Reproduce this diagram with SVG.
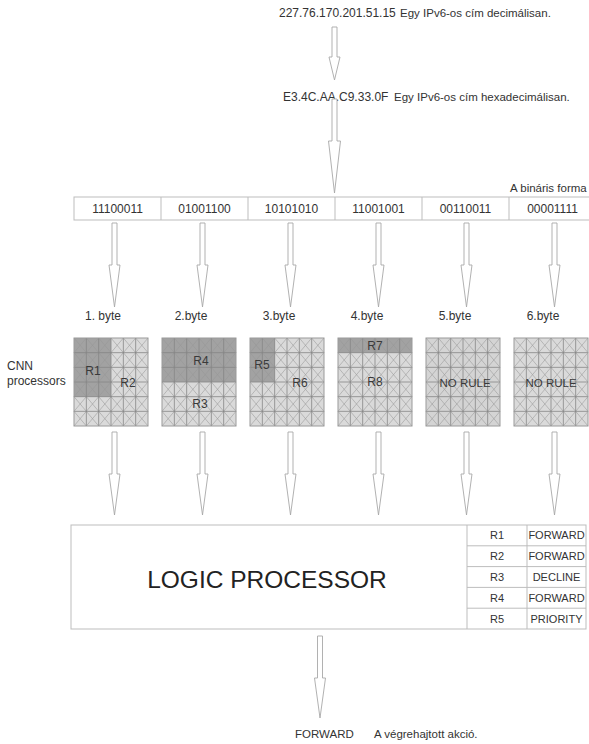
<svg xmlns="http://www.w3.org/2000/svg" xmlns:xlink="http://www.w3.org/1999/xlink" width="589" height="744" viewBox="0 0 589 744">
<style>
text{font-family:"Liberation Sans",Arial,sans-serif;fill:#333}
.t12{font-size:12px}
.t11{font-size:11.5px}
.c{text-anchor:middle}
.arrow{fill:#fff;stroke:#a8a8a8;stroke-width:0.9}
.box{fill:#fff;stroke:#bdbdbd;stroke-width:1}
.light{fill:#dadada}
.dark{fill:#a2a2a2}
.gl{fill:none;stroke:#858585;stroke-width:0.8}
.gd{fill:none;stroke:#979797;stroke-width:0.55}
.gb{fill:none;stroke:#9a9a9a;stroke-width:1}
.rl{font-size:12px;fill:#3a3a3a}
</style>
<defs>
<g id="gridlines">
<path class="gd" d="M0 0L74 88M12.33 0L74 73.33M24.67 0L74 58.67M37 0L74 44M49.33 0L74 29.33M61.67 0L74 14.67M0 14.67L61.67 88M0 29.33L49.33 88M0 44L37 88M0 58.67L24.67 88M0 73.33L12.33 88M12.33 0L0 14.67M24.67 0L0 29.33M37 0L0 44M49.33 0L0 58.67M61.67 0L0 73.33M74 0L0 88M74 14.67L12.33 88M74 29.33L24.67 88M74 44L37 88M74 58.67L49.33 88M74 73.33L61.67 88"/>
<path class="gl" d="M12.33 0V88M24.67 0V88M37 0V88M49.33 0V88M61.67 0V88M0 14.67H74M0 29.33H74M0 44H74M0 58.67H74M0 73.33H74"/>
<rect class="gb" x="0" y="0" width="74" height="88"/>
</g>
</defs>

<g id="decimal">
<text class="t12" x="279" y="17">227.76.170.201.51.15</text>
<text class="t11" x="400" y="17">Egy IPv6-os cím decimálisan.</text>
</g>
<g id="hex">
<text class="t12" x="283" y="101">E3.4C.AA.C9.33.0F</text>
<text class="t11" x="394" y="101">Egy IPv6-os cím hexadecimálisan.</text>
</g>

<g id="binary">
<text class="t11" x="510" y="192">A bináris forma</text>
<rect class="box" x="74" y="197" width="530" height="23"/>
<path d="M161 197V220M248 197V220M335 197V220M422 197V220M509 197V220" stroke="#bdbdbd" stroke-width="1"/>
<text class="t12 c" x="117.5" y="212.5">11100011</text>
<text class="t12 c" x="204.5" y="212.5">01001100</text>
<text class="t12 c" x="291.5" y="212.5">10101010</text>
<text class="t12 c" x="378.5" y="212.5">11001001</text>
<text class="t12 c" x="465.5" y="212.5">00110011</text>
<text class="t12 c" x="552.5" y="212.5">00001111</text>
</g>

<g id="cnn-label">
<text class="t12" x="7" y="370">CNN</text>
<text class="t12" x="7" y="385">processors</text>
</g>

<g id="byte1">
<text class="t12 c" x="103" y="320">1. byte</text>
<g transform="translate(74,338)">
<rect class="light" width="74" height="88"/>
<rect class="dark" width="37" height="58.67"/>
<use xlink:href="#gridlines"/>
</g>
<text class="rl c" x="93" y="375">R1</text>
<text class="rl c" x="128" y="387">R2</text>
</g>

<g id="byte2">
<text class="t12 c" x="191" y="320">2.byte</text>
<g transform="translate(162,338)">
<rect class="light" width="74" height="88"/>
<rect class="dark" width="74" height="44"/>
<use xlink:href="#gridlines"/>
</g>
<text class="rl c" x="201" y="365">R4</text>
<text class="rl c" x="200" y="408">R3</text>
</g>

<g id="byte3">
<text class="t12 c" x="279" y="320">3.byte</text>
<g transform="translate(250,338)">
<rect class="light" width="74" height="88"/>
<rect class="dark" width="24.67" height="44"/>
<use xlink:href="#gridlines"/>
</g>
<text class="rl c" x="262" y="369">R5</text>
<text class="rl c" x="300" y="387">R6</text>
</g>

<g id="byte4">
<text class="t12 c" x="367" y="320">4.byte</text>
<g transform="translate(338,338)">
<rect class="light" width="74" height="88"/>
<rect class="dark" width="74" height="14.67"/>
<use xlink:href="#gridlines"/>
</g>
<text class="rl c" x="375" y="350">R7</text>
<text class="rl c" x="375" y="386">R8</text>
</g>

<g id="byte5">
<text class="t12 c" x="455" y="320">5.byte</text>
<g transform="translate(426,338)">
<rect class="light" width="74" height="88" style="fill:#d4d4d4"/>
<use xlink:href="#gridlines"/>
</g>
<text class="t11 c" x="465" y="387" style="fill:#3a3a3a">NO RULE</text>
</g>

<g id="byte6">
<text class="t12 c" x="543" y="320">6.byte</text>
<g transform="translate(514,338)">
<rect class="light" width="74" height="88"/>
<use xlink:href="#gridlines"/>
</g>
<text class="t11 c" x="551" y="387" style="fill:#3a3a3a">NO RULE</text>
</g>

<g id="logic-processor">
<rect class="box" x="71" y="525" width="515" height="104"/>
<text x="267" y="588" text-anchor="middle" style="font-size:24.5px;fill:#222">LOGIC PROCESSOR</text>
<path d="M467 525V629M527 525V629M467 545.8H586M467 566.6H586M467 587.4H586M467 608.2H586" stroke="#bdbdbd" stroke-width="1" fill="none"/>
<g style="font-size:11px">
<text class="c" x="497" y="539.4">R1</text><text class="c" x="556.5" y="539.4">FORWARD</text>
<text class="c" x="497" y="560.2">R2</text><text class="c" x="556.5" y="560.2">FORWARD</text>
<text class="c" x="497" y="581">R3</text><text class="c" x="556.5" y="581">DECLINE</text>
<text class="c" x="497" y="601.8">R4</text><text class="c" x="556.5" y="601.8">FORWARD</text>
<text class="c" x="497" y="622.6">R5</text><text class="c" x="556.5" y="622.6">PRIORITY</text>
</g>
</g>

<g id="result">
<text class="t11" x="295" y="738">FORWARD</text>
<text class="t11" x="374" y="738">A végrehajtott akció.</text>
</g>

<g id="connectors">
<path class="arrow" d="M332 27H337V57H340L334.5 80L329 57H332Z"/>
<path class="arrow" d="M332 99H337V141H340.5L334.5 193L328.5 141H332Z"/>
<path class="arrow" d="M112 223H117V265H120L114.5 307L109 265H112Z"/>
<path class="arrow" d="M200 223H205V265H208L202.5 307L197 265H200Z"/>
<path class="arrow" d="M288 223H293V265H296L290.5 307L285 265H288Z"/>
<path class="arrow" d="M376 223H381V265H384L378.5 307L373 265H376Z"/>
<path class="arrow" d="M464 223H469V265H472L466.5 307L461 265H464Z"/>
<path class="arrow" d="M552 223H557V265H560L554.5 307L549 265H552Z"/>
<path class="arrow" d="M112 432H117V474H120L114.5 515L109 474H112Z"/>
<path class="arrow" d="M200 432H205V474H208L202.5 515L197 474H200Z"/>
<path class="arrow" d="M288 432H293V474H296L290.5 515L285 474H288Z"/>
<path class="arrow" d="M376 432H381V474H384L378.5 515L373 474H376Z"/>
<path class="arrow" d="M464 432H469V474H472L466.5 515L461 474H464Z"/>
<path class="arrow" d="M552 432H557V474H560L554.5 515L549 474H552Z"/>
<path class="arrow" d="M317.5 636H322.5V678H325.5L320 718L314.5 678H317.5Z"/>
</g>
</svg>
